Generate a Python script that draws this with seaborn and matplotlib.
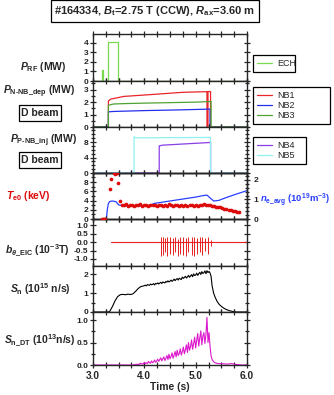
import matplotlib
matplotlib.use("Agg")
import matplotlib.pyplot as plt
from matplotlib.ticker import MultipleLocator, FormatStrFormatter, NullFormatter
import seaborn as sns

# --- values (shot #164334) ---
# ECH power (MW)
ech_t = [3.00, 3.17, 3.17, 3.20, 3.20, 3.30, 3.30, 3.49, 3.49, 6.00]
ech_p = [0.0, 0.0, 1.1, 1.1, 0.0, 0.0, 4.1, 4.1, 0.0, 0.0]

# N-NB deposited power (MW)
nb1_t = [3.00, 3.30, 3.30, 3.35, 3.45, 3.60, 4.10, 4.75, 5.20, 5.22, 5.22, 5.24, 5.24, 5.29, 5.29, 6.00]
nb1_p = [0.0, 0.0, 2.1, 2.25, 2.33, 2.46, 2.6, 2.79, 2.84, 2.85, 0.0, 0.0, 2.85, 2.85, 0.0, 0.0]
nb2_t = [3.00, 3.30, 3.30, 3.40, 4.00, 4.50, 5.00, 5.28, 5.28, 6.00]
nb2_p = [0.0, 0.0, 1.22, 1.25, 1.32, 1.36, 1.41, 1.44, 0.0, 0.0]
nb3_t = [3.00, 3.30, 3.30, 3.40, 3.60, 4.00, 4.50, 5.00, 5.30, 5.30, 6.00]
nb3_p = [0.0, 0.0, 1.75, 1.85, 1.88, 1.92, 1.96, 2.0, 2.05, 0.0, 0.0]

# P-NB injected power (MW)
nb4_t = [3.00, 4.29, 4.29, 4.35, 5.29, 5.29, 6.00]
nb4_p = [0.0, 0.0, 7.0, 7.2, 7.9, 0.0, 0.0]
nb5_t = [3.00, 3.80, 3.80, 3.83, 4.50, 5.29, 5.29, 6.00]
nb5_p = [0.0, 0.0, 9.4, 9.1, 9.15, 9.2, 0.0, 0.0]

# central electron temperature (keV)
te_t = [3.17, 3.19, 3.21, 3.23, 3.33, 3.36, 3.40, 3.43, 3.46, 3.49, 3.53,
        3.56, 3.60, 3.64, 3.68, 3.72, 3.76, 3.80, 3.84, 3.88, 3.92, 3.96,
        4.00, 4.04, 4.08, 4.12, 4.16, 4.20, 4.24, 4.28, 4.32, 4.36, 4.40,
        4.44, 4.48, 4.52, 4.56, 4.60, 4.64, 4.68, 4.72, 4.76, 4.80, 4.84,
        4.88, 4.92, 4.96, 5.00, 5.04, 5.08, 5.12, 5.16, 5.20, 5.24,
        5.28, 5.32, 5.36, 5.40, 5.44, 5.48, 5.52, 5.56, 5.60, 5.64, 5.68,
        5.72, 5.76, 5.80, 5.84]
te = [0.0, 0.0, 0.0, 0.0, 6.4, 8.6, 9.9, 9.7, 9.9, 7.7, 4.0,
      3.1, 3.0, 3.2, 2.9, 3.1, 3.0, 2.9, 3.1, 3.0, 3.2, 2.9,
      3.0, 3.1, 2.9, 3.0, 3.1, 3.0, 2.8, 3.0, 3.1, 2.9, 3.0,
      2.9, 3.2, 3.0, 2.9, 3.0, 3.1, 2.9, 3.0, 2.8, 3.0, 2.9,
      3.1, 3.0, 2.9, 3.0, 2.9, 3.1, 3.0, 3.2, 3.1, 3.0,
      3.1, 2.9, 2.8, 2.7, 2.6, 2.5, 2.35, 2.25, 2.1, 2.0, 1.9,
      1.8, 1.7, 1.55, 1.45]

# line-averaged density (1e19 m^-3)
ne_t = [3.26, 3.28, 3.30, 3.33, 3.38, 3.45, 3.50, 3.60, 3.80, 4.00, 4.10, 4.20,
        4.40, 4.60, 4.80, 5.00, 5.15, 5.22, 5.28, 5.35, 5.45, 5.60, 5.80, 6.00]
ne = [0.0, 0.5, 0.8, 0.9, 0.92, 0.88, 0.72, 0.68, 0.66, 0.67, 0.7, 0.8,
      0.88, 0.96, 1.04, 1.12, 1.2, 1.22, 1.08, 0.92, 0.95, 1.1, 1.28, 1.45]

# EIC magnetic fluctuation bursts (1e-3 T)
bth_t = [3.35, 6.00]
bth = [0.0, 0.0]
burst_t = [4.32, 4.36, 4.41, 4.45, 4.50, 4.55, 4.60, 4.65, 4.70, 4.76,
           4.81, 4.86, 4.92, 4.97, 5.03, 5.08, 5.13, 5.18, 5.24, 5.30]
burst_hi = [0.3, 0.3, 0.25, 0.3, 0.3, 0.25, 0.3, 0.2, 0.3, 0.3,
            0.25, 0.3, 0.3, 0.3, 0.25, 0.3, 0.3, 0.25, 0.3, 0.1]
burst_lo = [-0.8, -0.75, -0.6, -0.8, -0.7, -0.75, -0.6, -0.8, -0.7, -0.75,
            -0.8, -0.6, -0.75, -0.8, -0.7, -0.6, -0.75, -0.5, -0.7, -0.2]

# total neutron rate (1e15 n/s)
sn_t = [3.00, 3.30, 3.33, 3.38, 3.43, 3.48, 3.53, 3.58, 3.63, 3.68, 3.73, 3.78,
        3.83, 3.88, 3.93, 3.97,
        4.00, 4.02, 4.04, 4.06, 4.08, 4.10, 4.12, 4.14, 4.16, 4.18, 4.20, 4.22,
        4.24, 4.26, 4.28, 4.30, 4.32, 4.34, 4.36, 4.38, 4.40, 4.42, 4.44, 4.46,
        4.48, 4.50, 4.52, 4.54, 4.56, 4.58, 4.60, 4.62, 4.64, 4.66, 4.68, 4.70,
        4.72, 4.74, 4.76, 4.78, 4.80, 4.82, 4.84, 4.86, 4.88, 4.90, 4.92, 4.94,
        4.96, 4.98, 5.00, 5.02, 5.04, 5.06, 5.08, 5.10, 5.12, 5.14, 5.16, 5.18,
        5.20, 5.22, 5.24, 5.26, 5.28,
        5.30, 5.32, 5.35, 5.38, 5.42, 5.46, 5.50, 5.55, 5.60, 5.66, 5.73, 5.80, 6.00]
sn = [0.0, 0.0, 0.05, 0.3, 0.6, 0.82, 0.92, 0.94, 0.92, 0.95, 0.93, 0.97,
      1.1, 1.25, 1.35, 1.38,
      1.40, 1.43, 1.39, 1.46, 1.44, 1.42, 1.49, 1.45, 1.47, 1.51, 1.44, 1.52,
      1.50, 1.55, 1.49, 1.54, 1.58, 1.52, 1.60, 1.57, 1.55, 1.63, 1.59, 1.66,
      1.60, 1.64, 1.70, 1.63, 1.68, 1.75, 1.67, 1.74, 1.78, 1.70, 1.80, 1.76,
      1.73, 1.86, 1.79, 1.84, 1.90, 1.81, 1.87, 1.95, 1.85, 1.92, 1.99, 1.88,
      2.03, 1.94, 1.97, 2.07, 1.95, 2.04, 2.11, 2.00, 2.15, 2.05, 2.09, 2.19,
      2.04, 2.20, 2.10, 2.16, 2.08,
      1.9, 1.4, 1.0, 0.78, 0.55, 0.4, 0.3, 0.2, 0.13, 0.07, 0.02, 0.0, 0.0]

# DT neutron rate (1e13 n/s)
sdt_t = [3.00, 3.78,
         3.80, 3.82, 3.84, 3.86, 3.88, 3.90, 3.92, 3.94, 3.96, 3.98, 4.00, 4.02,
         4.04, 4.06, 4.08, 4.10, 4.12, 4.14, 4.16, 4.18, 4.20, 4.22, 4.24, 4.26,
         4.28, 4.30, 4.32, 4.34, 4.36, 4.38, 4.40, 4.42, 4.44, 4.46, 4.48, 4.50,
         4.52, 4.54, 4.56, 4.58, 4.60, 4.62, 4.64, 4.66, 4.68, 4.70, 4.72, 4.74,
         4.76, 4.78, 4.80, 4.82, 4.84, 4.86, 4.88, 4.90, 4.92, 4.94, 4.96, 4.98,
         5.00, 5.02, 5.04, 5.06, 5.08, 5.10, 5.12, 5.14, 5.16, 5.18, 5.20, 5.22,
         5.24, 5.26, 5.28, 5.30,
         5.32, 5.36, 5.40, 5.45, 5.50, 5.60, 5.70, 5.80, 5.90, 6.00]
sdt = [0.0, 0.0,
       0.01, 0.00, 0.02, 0.01, 0.02, 0.01, 0.04, 0.02, 0.03, 0.02, 0.06, 0.03,
       0.05, 0.03, 0.08, 0.05, 0.04, 0.09, 0.05, 0.07, 0.11, 0.06, 0.09, 0.13,
       0.08, 0.12, 0.16, 0.09, 0.14, 0.18, 0.10, 0.15, 0.21, 0.12, 0.24, 0.14,
       0.19, 0.27, 0.15, 0.22, 0.30, 0.18, 0.33, 0.21, 0.26, 0.36, 0.22, 0.30,
       0.40, 0.25, 0.34, 0.45, 0.28, 0.50, 0.33, 0.41, 0.56, 0.35, 0.47, 0.62,
       0.38, 0.55, 0.70, 0.42, 0.60, 0.76, 0.45, 0.64, 0.72, 0.48, 0.68, 1.06,
       0.50, 0.72, 0.42, 0.20,
       0.12, 0.06, 0.04, 0.03, 0.03, 0.02, 0.03, 0.01, 0.0, 0.0]

# --------------------
# style
# --------------------
sns.set_style("ticks")
plt.rcParams["font.family"] = ["Liberation Sans", "DejaVu Sans"]
plt.rcParams.update({
    "font.weight": "bold",
    "axes.linewidth": 1.0,
    "axes.unicode_minus": False,
    "mathtext.fontset": "custom",
    "mathtext.rm": "Liberation Sans:bold",
    "mathtext.it": "Liberation Sans:bold:italic",
    "mathtext.bf": "Liberation Sans:bold",
})

W, H = 334, 395
fig = plt.figure(figsize=(W / 100, H / 100), dpi=100)
gs = fig.add_gridspec(7, 1, left=93 / W, right=247 / W, top=1 - 34 / H, bottom=1 - 365 / H,
                      hspace=0, height_ratios=[47, 46, 46, 46, 47, 46, 53])
axs = [fig.add_subplot(gs[i]) for i in range(7)]


def px(x, y):
    return x / W, 1 - y / H


def line(ax, x, y, color, lw=0.9, label=None):
    sns.lineplot(x=x, y=y, ax=ax, color=color, lw=lw, estimator=None, sort=False, label=label)


def dress(ax, ylim, major, minor, fmt="%d", right=True):
    ax.set_xlim(3.0, 6.0)
    ax.set_ylim(*ylim)
    ax.xaxis.set_major_locator(MultipleLocator(1.0))
    ax.xaxis.set_minor_locator(MultipleLocator(0.25))
    ax.yaxis.set_major_locator(MultipleLocator(major))
    if minor:
        ax.yaxis.set_minor_locator(MultipleLocator(minor))
    ax.yaxis.set_major_formatter(FormatStrFormatter(fmt))
    ax.tick_params(axis="both", which="both", direction="inout", top=True, right=right,
                   width=0.9, labelsize=6.0, pad=1)
    ax.tick_params(axis="x", which="both", length=5)
    ax.tick_params(axis="y", which="major", length=5)
    ax.tick_params(axis="y", which="minor", length=3)
    ax.set_xlabel("")
    ax.set_ylabel("")


def box_legend(ax, x0, y0, w, h):
    leg = ax.legend(loc="upper left", bbox_to_anchor=(x0 / W, 1 - (y0 + h) / H, w / W, h / H),
                    bbox_transform=fig.transFigure, mode="expand", frameon=True, fancybox=False,
                    edgecolor="black", framealpha=1, handlelength=1.7, handletextpad=0.5,
                    borderpad=0.45, borderaxespad=0, labelspacing=0.1,
                    prop={"weight": "normal", "size": 6.5})
    leg.get_frame().set_linewidth(0.9)


# (1) ECH
line(axs[0], ech_t, ech_p, "#7ad94e", label="ECH")
dress(axs[0], (0, 4.9), 1, None)
box_legend(axs[0], 253, 55, 42, 23)

# (2) N-NB
line(axs[1], nb1_t, nb1_p, "#e8262a", label="NB1")
line(axs[1], nb2_t, nb2_p, "#2430f0", label="NB2")
line(axs[1], nb3_t, nb3_p, "#4fa232", label="NB3")
dress(axs[1], (0, 3.7), 1, 0.5)
box_legend(axs[1], 253, 87, 77, 35)

# (3) P-NB
line(axs[2], nb4_t, nb4_p, "#8a3ee6", label="NB4")
line(axs[2], nb5_t, nb5_p, "#8ef2f0", label="NB5")
dress(axs[2], (0, 11.9), 4, 1)
box_legend(axs[2], 253, 137, 53, 26)

# (4) Te and ne
sns.scatterplot(x=te_t, y=te, ax=axs[3], color="#dd0a0a", s=7, linewidth=0, zorder=3)
dress(axs[3], (0, 9.95), 2, 1, right=False)
ax_ne = axs[3].twinx()
line(ax_ne, ne_t, ne, "#2a40ff", lw=0.9)
ax_ne.set_ylim(0, 2.35)
ax_ne.yaxis.set_major_locator(MultipleLocator(1))
ax_ne.yaxis.set_minor_locator(MultipleLocator(0.2))
ax_ne.set_ylabel("")
ax_ne.tick_params(axis="y", which="both", direction="inout", width=0.9, labelsize=6.0, pad=2)
ax_ne.tick_params(axis="y", which="major", length=5)
ax_ne.tick_params(axis="y", which="minor", length=3)
axs[3].set_zorder(ax_ne.get_zorder() + 1)
axs[3].patch.set_visible(False)

# (5) b_theta EIC
line(axs[4], bth_t, bth, "#e82020", lw=0.8)
axs[4].vlines(burst_t, burst_lo, burst_hi, color="#e82020", lw=0.7)
dress(axs[4], (-1.42, 1.38), 0.5, None, fmt="%.1f")

# (6) Sn
line(axs[5], sn_t, sn, "black", lw=0.8)
dress(axs[5], (0, 2.45), 1, 0.5)

# (7) Sn DT
line(axs[6], sdt_t, sdt, "#dd18cc", lw=0.8)
dress(axs[6], (0, 1.18), 0.5, 0.25, fmt="%.1f")
axs[6].xaxis.set_major_formatter(FormatStrFormatter("%.1f"))
axs[6].tick_params(axis="x", labelsize=7.3, pad=2)

for ax in axs[:-1]:
    ax.xaxis.set_major_formatter(NullFormatter())

# --------------------
# labels
# --------------------
fs = 7.5
fig.text(*px(155, 11), r"#164334, $B_{\rm t}$=2.75 T (CCW), $R_{\rm ax}$=3.60 m", ha="center", va="center",
         fontsize=8, bbox=dict(boxstyle="square,pad=0.35", fc="white", ec="black", lw=0.9))
fig.text(*px(43, 67), r"$P_{\rm RF}$ (MW)", ha="center", va="center", fontsize=fs)
fig.text(*px(39, 91), r"$P_{\rm N\text{-}NB\_dep}$ (MW)", ha="center", va="center", fontsize=fs)
fig.text(*px(40, 113), "D beam", ha="center", va="center", fontsize=fs,
         bbox=dict(boxstyle="square,pad=0.25", fc="white", ec="black", lw=0.9))
fig.text(*px(44, 140), r"$P_{\rm P\text{-}NB\_inj}$ (MW)", ha="center", va="center", fontsize=fs)
fig.text(*px(40, 160), "D beam", ha="center", va="center", fontsize=fs,
         bbox=dict(boxstyle="square,pad=0.25", fc="white", ec="black", lw=0.9))
fig.text(*px(28, 196), r"$T_{\rm e0}$ (keV)", ha="center", va="center", fontsize=fs, color="#dd0a0a")
fig.text(*px(260, 200), r"$n_{\rm e\_avg}$ (10$^{19}$m$^{-3}$)", ha="left", va="center", fontsize=6.8,
         color="#2a40ff")
fig.text(*px(37, 250), r"$b_{\theta\rm\_EIC}$ (10$^{-3}$T)", ha="center", va="center", fontsize=fs)
fig.text(*px(40, 289), r"$S_{\rm n}$ (10$^{15}$ n/s)", ha="center", va="center", fontsize=fs)
fig.text(*px(40, 340), r"$S_{\rm n\_DT}$ (10$^{13}$n/s)", ha="center", va="center", fontsize=fs)
fig.text(*px(170, 387), "Time (s)", ha="center", va="center", fontsize=fs)

plt.savefig("out.png", dpi=100)
